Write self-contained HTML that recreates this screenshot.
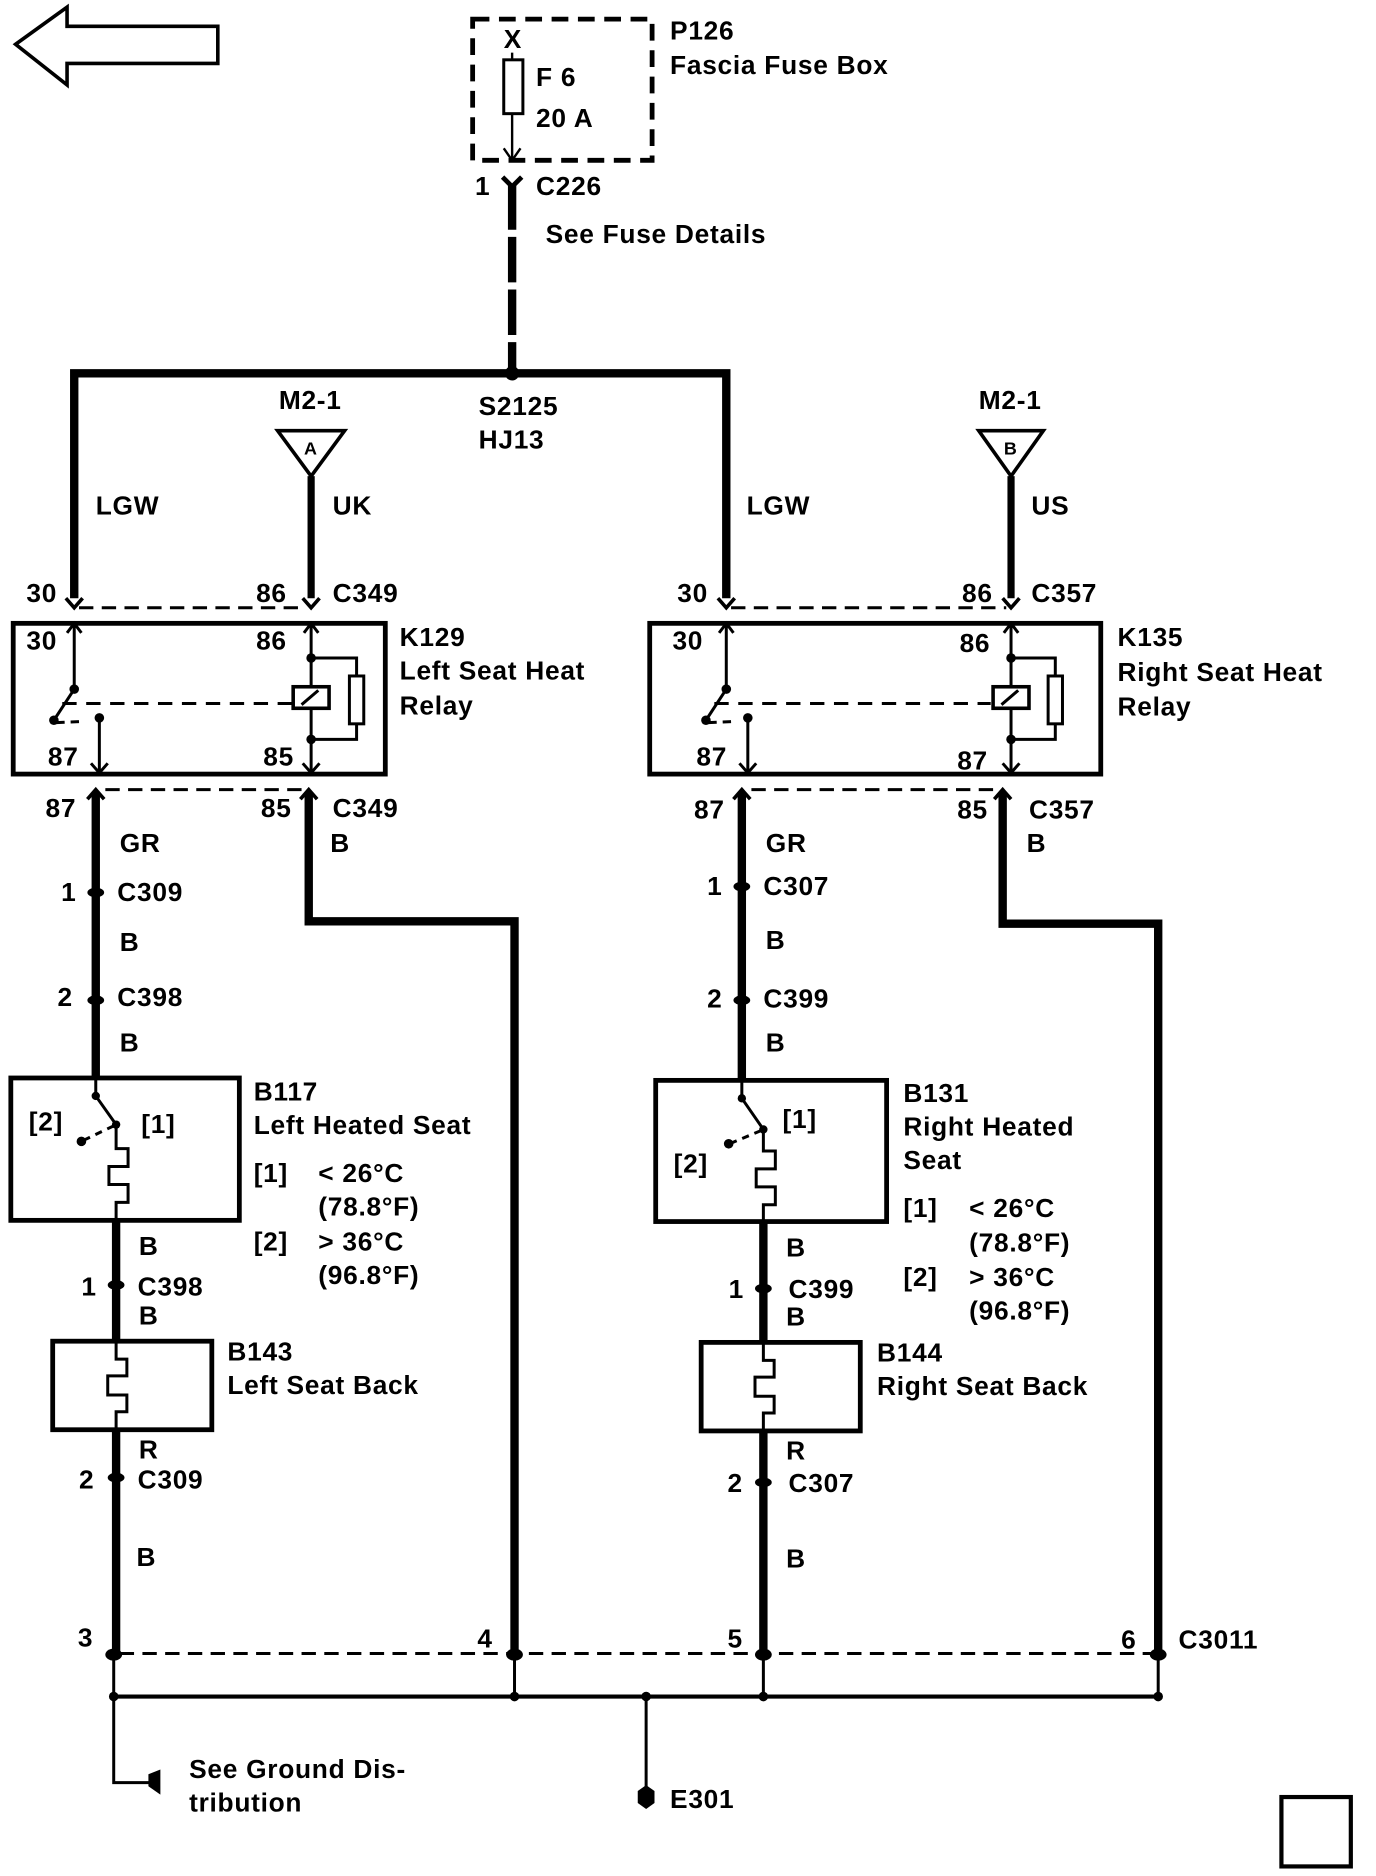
<!DOCTYPE html>
<html><head><meta charset="utf-8"><style>
html,body{margin:0;padding:0;background:#fff;}
svg{display:block;}
text{font-family:"Liberation Sans",Arial,sans-serif;font-weight:bold;font-size:22px;letter-spacing:0.6px;fill:#000;}
</style></head><body>
<svg width="1376" height="1876" viewBox="0 0 1150 1568" xmlns="http://www.w3.org/2000/svg">
<rect width="1150" height="1568" fill="#fff"/>
<g fill="none" stroke="#000" stroke-linejoin="miter">
<path d="M13,37 L56,6 L56,22 L182,22 L182,53 L56,53 L56,71 Z" stroke-width="3"/>
<rect x="395" y="16" width="150" height="118" stroke-width="4" stroke-dasharray="14,8"/>
<rect x="421" y="50" width="16" height="45" stroke-width="2.5"/>
<line x1="428" y1="44" x2="428" y2="50" stroke-width="2"/>
<line x1="428" y1="95" x2="428" y2="134" stroke-width="2"/>
<path d="M421,124 L428,134 L435,124" stroke-width="2"/>
<path d="M420,148 L428,156 L436,148" stroke-width="4"/>
<line x1="428" y1="154" x2="428" y2="312" stroke-width="7" stroke-dasharray="38,6"/>
<polyline points="62,500 62,312 607,312 607,500" stroke-width="7"/>
<path d="M232,360 L288,360 L260,398 Z" stroke-width="3"/>
<line x1="260" y1="398" x2="260" y2="500" stroke-width="6"/>
<path d="M818,360 L872,360 L845,398 Z" stroke-width="3"/>
<line x1="845" y1="398" x2="845" y2="500" stroke-width="6"/>
<path d="M55,500 L62,508 L69,500 M253,500 L260,508 L267,500" stroke-width="3"/>
<line x1="66" y1="508" x2="256" y2="508" stroke-width="2.5" stroke-dasharray="12,7"/>
<path d="M600,500 L607,508 L614,500 M838,500 L845,508 L852,500" stroke-width="3"/>
<line x1="611" y1="508" x2="841" y2="508" stroke-width="2.5" stroke-dasharray="12,7"/>
<rect x="11" y="521" width="311" height="126" stroke-width="4"/>
<path d="M56,529 L62,521 L68,529 M62,521 L62,576 L45,602" stroke-width="2.5"/>
<path d="M52,588 L245,588" stroke-width="2.5" stroke-dasharray="12,8"/>
<path d="M47,604 L70,603" stroke-width="2.5" stroke-dasharray="7,5"/>
<path d="M83,600 L83,646 M76,638 L83,646 L90,638" stroke-width="2.5"/>
<path d="M254,529 L260,521 L266,529 M260,521 L260,573 M260,593 L260,646 M253,638 L260,646 L267,638" stroke-width="2.5"/>
<rect x="245" y="574" width="30" height="18" stroke-width="3"/>
<line x1="252" y1="589" x2="266" y2="577" stroke-width="2.5"/>
<path d="M260,550 L298,550 L298,565 M298,605 L298,618 L260,618" stroke-width="2.5"/>
<rect x="292" y="565" width="12" height="40" stroke-width="2.5"/>
<rect x="543" y="521" width="377" height="126" stroke-width="4"/>
<path d="M601,529 L607,521 L613,529 M607,521 L607,576 L590,602" stroke-width="2.5"/>
<path d="M597,588 L828,588" stroke-width="2.5" stroke-dasharray="12,8"/>
<path d="M592,604 L614,603" stroke-width="2.5" stroke-dasharray="7,5"/>
<path d="M625,600 L625,646 M618,638 L625,646 L632,638" stroke-width="2.5"/>
<path d="M839,529 L845,521 L851,529 M845,521 L845,573 M845,593 L845,646 M838,638 L845,646 L852,638" stroke-width="2.5"/>
<rect x="830" y="574" width="30" height="18" stroke-width="3"/>
<line x1="837" y1="589" x2="851" y2="577" stroke-width="2.5"/>
<path d="M845,550 L882,550 L882,565 M882,605 L882,618 L845,618" stroke-width="2.5"/>
<rect x="876" y="565" width="12" height="40" stroke-width="2.5"/>
<path d="M73,668 L80,660 L87,668 M251,668 L258,660 L265,668" stroke-width="3"/>
<line x1="88" y1="660" x2="252" y2="660" stroke-width="2.5" stroke-dasharray="12,7"/>
<path d="M613,668 L620,660 L627,668 M831,668 L838,660 L845,668" stroke-width="3"/>
<line x1="628" y1="660" x2="830" y2="660" stroke-width="2.5" stroke-dasharray="12,7"/>
<line x1="80" y1="662" x2="80" y2="900" stroke-width="7"/>
<polyline points="258,662 258,770 430,770 430,1382" stroke-width="7"/>
<line x1="620" y1="662" x2="620" y2="902" stroke-width="7"/>
<polyline points="838,662 838,772 968,772 968,1382" stroke-width="7"/>
<rect x="9" y="901" width="191" height="119" stroke-width="4"/>
<path d="M80,901 L80,916 L97,940 L97,960 L107,960 L107,975 L91,975 L91,990 L107,990 L107,1005 L97,1005 L97,1020" stroke-width="2.5"/>
<path d="M95,941 L70,953" stroke-width="2.5" stroke-dasharray="6,5"/>
<line x1="97" y1="1020" x2="97" y2="1382" stroke-width="7"/>
<rect x="44" y="1121" width="133" height="74" stroke-width="4" fill="#fff"/>
<path d="M97,1121 L97,1136 L106,1136 L106,1150 L90,1150 L90,1166 L106,1166 L106,1180 L97,1180 L97,1195" stroke-width="2.5"/>
<rect x="548" y="903" width="193" height="118" stroke-width="4"/>
<path d="M620,903 L620,918 L638,944 L638,962 L648,962 L648,977 L632,977 L632,992 L648,992 L648,1007 L638,1007 L638,1021" stroke-width="2.5"/>
<path d="M636,945 L612,955" stroke-width="2.5" stroke-dasharray="6,5"/>
<line x1="638" y1="1021" x2="638" y2="1382" stroke-width="7"/>
<rect x="586" y="1122" width="133" height="74" stroke-width="4" fill="#fff"/>
<path d="M638,1122 L638,1137 L647,1137 L647,1151 L631,1151 L631,1167 L647,1167 L647,1181 L638,1181 L638,1196" stroke-width="2.5"/>
<line x1="100" y1="1382" x2="963" y2="1382" stroke-width="2.5" stroke-dasharray="12,7"/>
<path d="M95,1382 L95,1490 L125,1490 M430,1382 L430,1418 M638,1382 L638,1418 M968,1382 L968,1418 M540,1418 L540,1500" stroke-width="2.5"/>
<line x1="95" y1="1418" x2="968" y2="1418" stroke-width="3.5"/>
<rect x="1071" y="1502" width="58" height="58" stroke-width="3.5"/>
</g>
<g fill="#000">
<circle cx="428" cy="312" r="6"/>
<circle cx="62" cy="576" r="4"/><circle cx="45" cy="602" r="4"/><circle cx="83" cy="600" r="4"/>
<circle cx="260" cy="550" r="4"/><circle cx="260" cy="618" r="4"/>
<circle cx="607" cy="576" r="4"/><circle cx="590" cy="602" r="4"/><circle cx="625" cy="600" r="4"/>
<circle cx="845" cy="550" r="4"/><circle cx="845" cy="618" r="4"/>
<circle cx="80" cy="916" r="3.5"/><circle cx="97" cy="940" r="3.5"/><circle cx="68" cy="954" r="4"/>
<circle cx="620" cy="918" r="3.5"/><circle cx="638" cy="944" r="3.5"/><circle cx="609" cy="956" r="4"/>
<circle cx="95" cy="1418" r="4"/><circle cx="430" cy="1418" r="4"/><circle cx="540" cy="1418" r="4"/><circle cx="638" cy="1418" r="4"/><circle cx="968" cy="1418" r="4"/>
<path d="M124,1483 L134,1479 L134,1500 L124,1493 Z"/>
<path d="M540,1492 L547,1497 L547,1507 L540,1512 L533,1507 L533,1497 Z"/>
<ellipse cx="80" cy="746" rx="7" ry="4"/><ellipse cx="80" cy="836" rx="7" ry="4"/>
<ellipse cx="97" cy="1074" rx="7" ry="4"/><ellipse cx="97" cy="1235" rx="7" ry="4"/>
<ellipse cx="620" cy="741" rx="7" ry="4"/><ellipse cx="620" cy="836" rx="7" ry="4"/>
<ellipse cx="638" cy="1077" rx="7" ry="4"/><ellipse cx="638" cy="1239" rx="7" ry="4"/>
<ellipse cx="95" cy="1383" rx="7" ry="5"/><ellipse cx="430" cy="1383" rx="7" ry="5"/><ellipse cx="638" cy="1383" rx="7" ry="5"/><ellipse cx="968" cy="1383" rx="7" ry="5"/>
</g>
<g>
<text x="421" y="40">X</text>
<text x="448" y="72">F 6</text>
<text x="448" y="106">20 A</text>
<text x="560" y="33">P126</text>
<text x="560" y="62">Fascia Fuse Box</text>
<text x="397" y="163">1</text>
<text x="448" y="163">C226</text>
<text x="456" y="203">See Fuse Details</text>
<text x="233" y="342">M2-1</text>
<text x="254" y="380" style="font-size:15px;letter-spacing:0">A</text>
<text x="818" y="342">M2-1</text>
<text x="839" y="380" style="font-size:15px;letter-spacing:0">B</text>
<text x="400" y="347">S2125</text>
<text x="400" y="375">HJ13</text>
<text x="80" y="430">LGW</text>
<text x="278" y="430">UK</text>
<text x="624" y="430">LGW</text>
<text x="862" y="430">US</text>
<text x="22" y="503">30</text>
<text x="214" y="503">86</text>
<text x="278" y="503">C349</text>
<text x="566" y="503">30</text>
<text x="804" y="503">86</text>
<text x="862" y="503">C357</text>
<text x="22" y="543">30</text>
<text x="214" y="543">86</text>
<text x="40" y="640">87</text>
<text x="220" y="640">85</text>
<text x="562" y="543">30</text>
<text x="802" y="545">86</text>
<text x="582" y="640">87</text>
<text x="800" y="643">87</text>
<text x="334" y="540">K129</text>
<text x="334" y="568">Left Seat Heat</text>
<text x="334" y="597">Relay</text>
<text x="934" y="540">K135</text>
<text x="934" y="569">Right Seat Heat</text>
<text x="934" y="598">Relay</text>
<text x="38" y="683">87</text>
<text x="218" y="683">85</text>
<text x="278" y="683">C349</text>
<text x="580" y="684">87</text>
<text x="800" y="684">85</text>
<text x="860" y="684">C357</text>
<text x="100" y="712">GR</text>
<text x="276" y="712">B</text>
<text x="640" y="712">GR</text>
<text x="858" y="712">B</text>
<text x="51" y="753">1</text><text x="98" y="753">C309</text>
<text x="100" y="795">B</text>
<text x="48" y="841">2</text><text x="98" y="841">C398</text>
<text x="100" y="879">B</text>
<text x="591" y="748">1</text><text x="638" y="748">C307</text>
<text x="640" y="793">B</text>
<text x="591" y="842">2</text><text x="638" y="842">C399</text>
<text x="640" y="879">B</text>
<text x="212" y="920">B117</text>
<text x="212" y="948">Left Heated Seat</text>
<text x="24" y="945">[2]</text>
<text x="118" y="947">[1]</text>
<text x="212" y="988">[1]</text><text x="266" y="988">&lt; 26°C</text>
<text x="266" y="1016">(78.8°F)</text>
<text x="212" y="1045">[2]</text><text x="266" y="1045">&gt; 36°C</text>
<text x="266" y="1073">(96.8°F)</text>
<text x="116" y="1049">B</text>
<text x="68" y="1083">1</text><text x="115" y="1083">C398</text>
<text x="116" y="1107">B</text>
<text x="190" y="1137">B143</text>
<text x="190" y="1165">Left Seat Back</text>
<text x="116" y="1219">R</text>
<text x="66" y="1244">2</text><text x="115" y="1244">C309</text>
<text x="114" y="1309">B</text>
<text x="755" y="921">B131</text>
<text x="755" y="949">Right Heated</text>
<text x="755" y="977">Seat</text>
<text x="654" y="943">[1]</text>
<text x="563" y="980">[2]</text>
<text x="755" y="1017">[1]</text><text x="810" y="1017">&lt; 26°C</text>
<text x="810" y="1046">(78.8°F)</text>
<text x="755" y="1075">[2]</text><text x="810" y="1075">&gt; 36°C</text>
<text x="810" y="1103">(96.8°F)</text>
<text x="657" y="1050">B</text>
<text x="609" y="1085">1</text><text x="659" y="1085">C399</text>
<text x="657" y="1108">B</text>
<text x="733" y="1138">B144</text>
<text x="733" y="1166">Right Seat Back</text>
<text x="657" y="1220">R</text>
<text x="608" y="1247">2</text><text x="659" y="1247">C307</text>
<text x="657" y="1310">B</text>
<text x="65" y="1376">3</text>
<text x="399" y="1377">4</text>
<text x="608" y="1377">5</text>
<text x="937" y="1378">6</text>
<text x="985" y="1378">C3011</text>
<text x="158" y="1486">See Ground Dis-</text>
<text x="158" y="1514">tribution</text>
<text x="560" y="1511">E301</text>
</g>
</svg>
</body></html>
